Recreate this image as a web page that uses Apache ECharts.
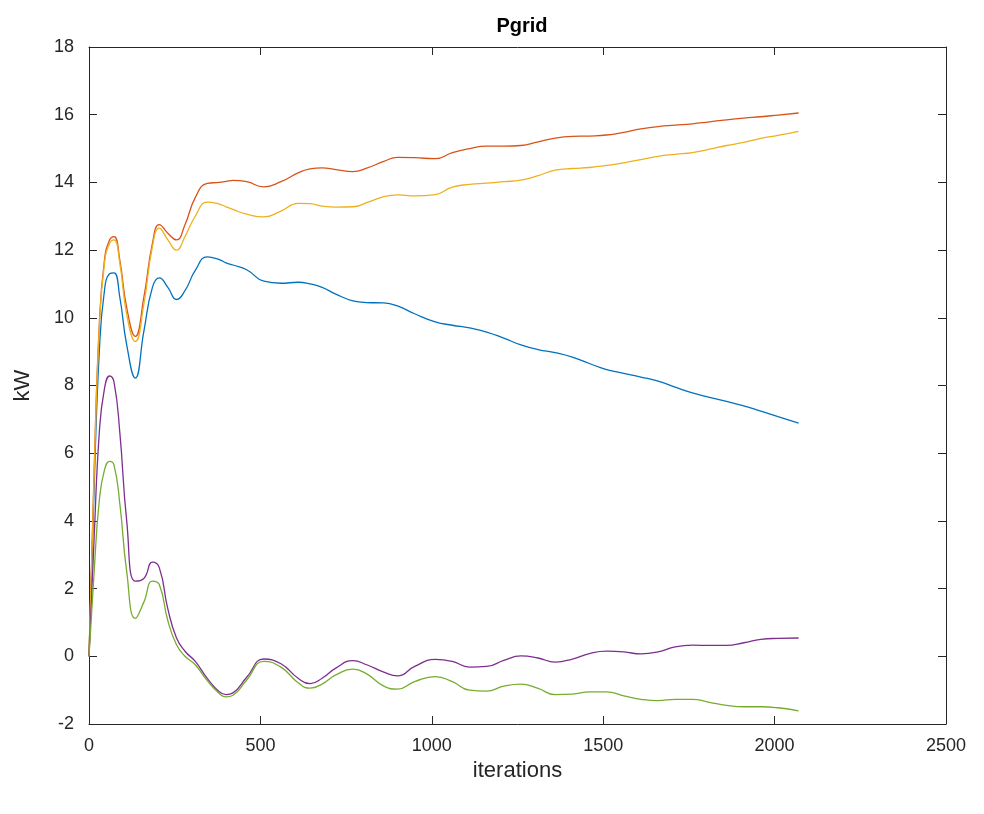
<!DOCTYPE html>
<html>
<head>
<meta charset="utf-8">
<script src="https://cdn.jsdelivr.net/npm/echarts@6/dist/echarts.min.js"></script>
<style>html,body{margin:0;padding:0;background:#fff;}#c{width:984px;height:814px;}</style>
</head>
<body>
<div id="c"></div>
<script>
const iters = [0,15,30,45,60,73,90,110,135,160,185,205,230,255,280,310,345,380,400,420,460,510,560,610,645,680,720,770,810,860,900,950,1010,
  1060,1110,1160,1210,1260,1310,1360,1410,1460,1510,1560,1610,1660,1710,1760,1810,1860,1910,1960,2010,2070];

const s1 = [0,5.0,9.0,10.8,11.3,11.33,10.6,9.2,8.22,9.6,10.9,11.18,10.9,10.54,10.8,11.4,11.8,11.72,11.62,11.56,11.42,11.08,11.02,11.05,11.0,10.9,10.7,10.5,10.45,10.44,10.35,10.12,9.88,
  9.78,9.7,9.58,9.4,9.2,9.06,8.97,8.84,8.65,8.47,8.36,8.25,8.13,7.95,7.78,7.65,7.53,7.4,7.24,7.08,6.89];
const s2 = [0,5.5,9.8,11.7,12.3,12.4,11.7,10.3,9.45,10.6,12.2,12.75,12.5,12.3,12.75,13.55,13.97,14.0,14.03,14.06,14.02,13.87,14.02,14.28,14.4,14.43,14.38,14.32,14.42,14.62,14.74,14.73,14.7,
  14.88,15.0,15.07,15.07,15.09,15.2,15.31,15.36,15.37,15.4,15.48,15.58,15.65,15.69,15.73,15.79,15.85,15.9,15.94,15.99,16.05];
const s3 = [0,5.4,9.7,11.6,12.2,12.3,11.6,10.1,9.3,10.4,12.1,12.65,12.3,12.0,12.4,13.0,13.42,13.36,13.28,13.2,13.06,12.98,13.15,13.38,13.37,13.3,13.27,13.28,13.4,13.58,13.63,13.6,13.64,
  13.86,13.94,13.98,14.02,14.07,14.2,14.36,14.41,14.44,14.5,14.58,14.67,14.77,14.83,14.88,14.98,15.09,15.18,15.3,15.39,15.51];
const s4 = [0,3.5,6.6,7.9,8.28,8.1,6.6,4.0,2.22,2.3,2.78,2.62,1.4,0.55,0.15,-0.15,-0.65,-1.05,-1.13,-1.08,-0.62,-0.08,-0.22,-0.65,-0.81,-0.65,-0.35,-0.13,-0.25,-0.47,-0.58,-0.3,-0.09,
  -0.15,-0.32,-0.3,-0.12,0.01,-0.05,-0.17,-0.08,0.08,0.15,0.13,0.07,0.13,0.28,0.33,0.32,0.32,0.4,0.5,0.53,0.54];
const s5 = [0,2.5,4.6,5.5,5.76,5.65,4.5,2.5,1.12,1.6,2.22,2.12,1.05,0.35,0.0,-0.25,-0.72,-1.1,-1.2,-1.15,-0.7,-0.15,-0.32,-0.78,-0.94,-0.82,-0.55,-0.38,-0.52,-0.88,-0.97,-0.75,-0.6,
  -0.75,-1.0,-1.03,-0.88,-0.82,-0.95,-1.13,-1.12,-1.05,-1.05,-1.17,-1.27,-1.31,-1.27,-1.27,-1.36,-1.45,-1.49,-1.49,-1.52,-1.61];

const seriesValues = [s1, s2, s3, s4, s5];
const colors = ['#0072BD','#D95319','#EDB120','#7E2F8E','#77AC30'];
const xTicks = [0, 500, 1000, 1500, 2000, 2500];
const yTicks = [-2, 0, 2, 4, 6, 8, 10, 12, 14, 16, 18];

const font = 'Liberation Sans, Arial, Helvetica, sans-serif';
const axisColor = '#262626';

const chart = echarts.init(document.getElementById('c'), null, {renderer: 'canvas'});

function baseAxis(extra) {
  return Object.assign({
    type: 'value',
    axisLine: {show: true, onZero: false, lineStyle: {color: axisColor, width: 1}},
    axisTick: {show: true, inside: true, length: 8, lineStyle: {color: axisColor}},
    splitLine: {show: false}
  }, extra);
}

chart.setOption({
  animation: false,
  backgroundColor: '#fff',
  title: {
    text: 'Pgrid', left: 517, top: 11, textAlign: 'center',
    textStyle: {fontFamily: font, fontSize: 20, fontWeight: 'bold', color: '#000'}
  },
  grid: {left: 89, right: 38, top: 47, bottom: 90, containLabel: false},
  xAxis: [
    baseAxis({
      position: 'bottom', min: xTicks[0], max: xTicks[xTicks.length-1], interval: 500,
      name: 'iterations', nameLocation: 'middle', nameGap: 35,
      nameTextStyle: {fontFamily: font, fontSize: 22, color: axisColor},
      axisLabel: {fontFamily: font, fontSize: 18, color: axisColor, margin: 13, formatter: v => String(v)}
    }),
    baseAxis({
      position: 'top', min: xTicks[0], max: xTicks[xTicks.length-1], interval: 500,
      axisLabel: {show: false}
    })
  ],
  yAxis: [
    baseAxis({
      position: 'left', min: yTicks[0], max: yTicks[yTicks.length-1], interval: 2,
      name: 'kW', nameLocation: 'middle', nameGap: 55, nameRotate: 90,
      nameTextStyle: {fontFamily: font, fontSize: 22, color: axisColor},
      axisLabel: {fontFamily: font, fontSize: 18, color: axisColor, margin: 15, formatter: v => String(v)}
    }),
    baseAxis({
      position: 'right', min: yTicks[0], max: yTicks[yTicks.length-1], interval: 2,
      axisLabel: {show: false}
    })
  ],
  series: seriesValues.map((vals, i) => ({
    type: 'line',
    xAxisIndex: 0, yAxisIndex: 0,
    data: iters.map((x, j) => [x, vals[j]]),
    smooth: 0.5,
    showSymbol: false,
    lineStyle: {color: colors[i], width: 1.3},
    itemStyle: {color: colors[i]},
    z: 2 + i
  }))
});
</script>
</body>
</html>
